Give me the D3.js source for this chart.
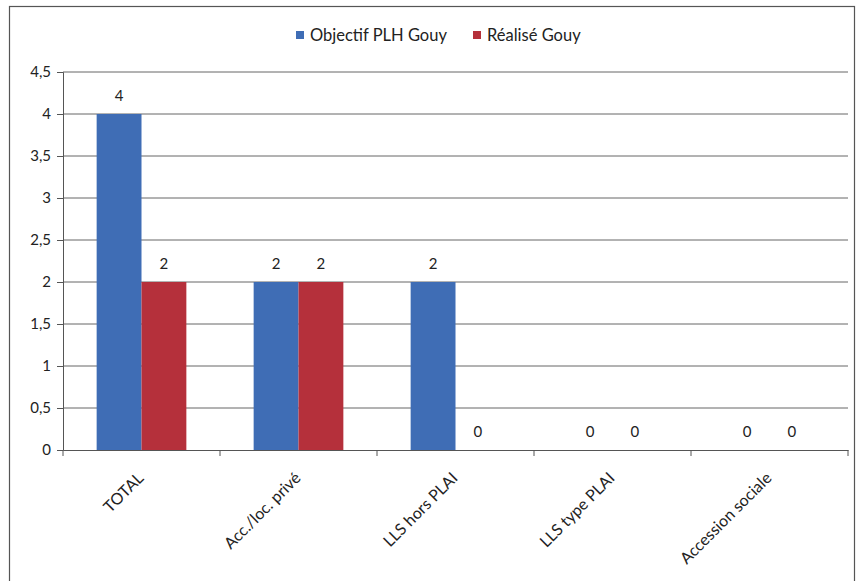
<!DOCTYPE html>
<html>
<head>
<meta charset="utf-8">
<script src="https://cdn.jsdelivr.net/npm/d3@7"></script>
<style>
body { margin: 0; background: #fff; }
text { font-family: Lato, "Open Sans", sans-serif; fill: #222; }
</style>
</head>
<body>
<script>
var categories = ['TOTAL', 'Acc./loc. privé', 'LLS hors PLAI', 'LLS type PLAI', 'Accession sociale'];
var seriesNames = ['Objectif PLH Gouy', 'Réalisé Gouy'];
var objectif = [4, 2, 2, 0, 0];
var realise = [2, 2, 0, 0, 0];
var yTicks = [0, 0.5, 1, 1.5, 2, 2.5, 3, 3.5, 4, 4.5];
var colors = ['#3f6db5', '#b5303b'];

var W = 858, H = 581;
var margin = { top: 72, right: 10, bottom: 131, left: 63 };
var width = W - margin.left - margin.right;
var height = H - margin.top - margin.bottom;

var svg = d3.select('body').append('svg')
	.attr('width', W)
	.attr('height', H);

// outer frame
svg.append('rect')
	.attr('x', 9.5).attr('y', 6.5)
	.attr('width', 845).attr('height', 580)
	.attr('fill', 'none')
	.attr('stroke', '#555')
	.attr('stroke-width', 1.2);

var g = svg.append('g')
	.attr('transform', `translate(${margin.left}, ${margin.top})`);

var x0 = d3.scaleBand().domain(categories).range([0, width]);
var bw = x0.bandwidth() / 3.5; // gap width 150%
var x1 = d3.scaleBand().domain(seriesNames).range([0, bw * 2]);
var y = d3.scaleLinear().domain([0, 4.5]).range([height, 0]);

// gridlines
g.append('g')
	.selectAll('line')
	.data(yTicks.slice(1))
	.enter().append('line')
	.attr('x1', 0).attr('x2', width)
	.attr('y1', function(d) { return y(d); })
	.attr('y2', function(d) { return y(d); })
	.attr('stroke', '#666')
	.attr('stroke-width', 1);

var data = categories.map(function(c, i) {
	return { cat: c, vals: [objectif[i], realise[i]] };
});

var groups = g.selectAll('.grp')
	.data(data)
	.enter().append('g')
	.attr('transform', function(d) { return `translate(${x0(d.cat) + bw * 0.75}, 0)`; });

groups.selectAll('rect')
	.data(function(d) { return d.vals.map(function(v, i) { return { s: seriesNames[i], v: v, i: i }; }); })
	.enter().append('rect')
	.attr('x', function(d) { return x1(d.s); })
	.attr('y', function(d) { return y(d.v); })
	.attr('width', x1.bandwidth())
	.attr('height', function(d) { return height - y(d.v); })
	.attr('fill', function(d) { return colors[d.i]; });

groups.selectAll('.lbl')
	.data(function(d) { return d.vals.map(function(v, i) { return { s: seriesNames[i], v: v }; }); })
	.enter().append('text')
	.attr('x', function(d) { return x1(d.s) + x1.bandwidth() / 2; })
	.attr('y', function(d) { return y(d.v) - 13; })
	.attr('text-anchor', 'middle')
	.style('font-size', '15px')
	.text(function(d) { return d.v; });

// y axis
var yAxis = g.append('g')
	.call(d3.axisLeft(y).tickValues(yTicks).tickSize(6).tickFormat(function(d) { return String(d).replace('.', ','); }));
yAxis.select('.domain').attr('stroke', '#555');
yAxis.selectAll('.tick line').attr('stroke', '#555');
yAxis.selectAll('text').style('font-size', '15px').attr('x', -12).style('fill', '#222');

// x axis
var xAxis = g.append('g')
	.attr('transform', `translate(0, ${height})`)
	.call(d3.axisBottom(x0).tickSize(0).tickSizeOuter(0));
xAxis.select('.domain').attr('stroke', '#555');
xAxis.selectAll('text')
	.style('font-size', '16px')
	.style('fill', '#222')
	.attr('text-anchor', 'end')
	.attr('dy', 0)
	.attr('transform', 'translate(1, 27) rotate(-45)');

// category boundary ticks
g.append('g')
	.selectAll('line')
	.data(d3.range(categories.length + 1))
	.enter().append('line')
	.attr('x1', function(i) { return i * x0.step(); })
	.attr('x2', function(i) { return i * x0.step(); })
	.attr('y1', height).attr('y2', height + 6)
	.attr('stroke', '#555');

// legend
var legend = svg.append('g').attr('transform', 'translate(296, 35)');
var lx = [0, 177];
seriesNames.forEach(function(s, i) {
	legend.append('rect')
		.attr('x', lx[i]).attr('y', -4)
		.attr('width', 8).attr('height', 8)
		.attr('fill', colors[i]);
	legend.append('text')
		.attr('x', lx[i] + 14).attr('y', 0)
		.attr('dy', '0.35em')
		.style('font-size', '16.5px')
		.text(s);
});
</script>
</body>
</html>
